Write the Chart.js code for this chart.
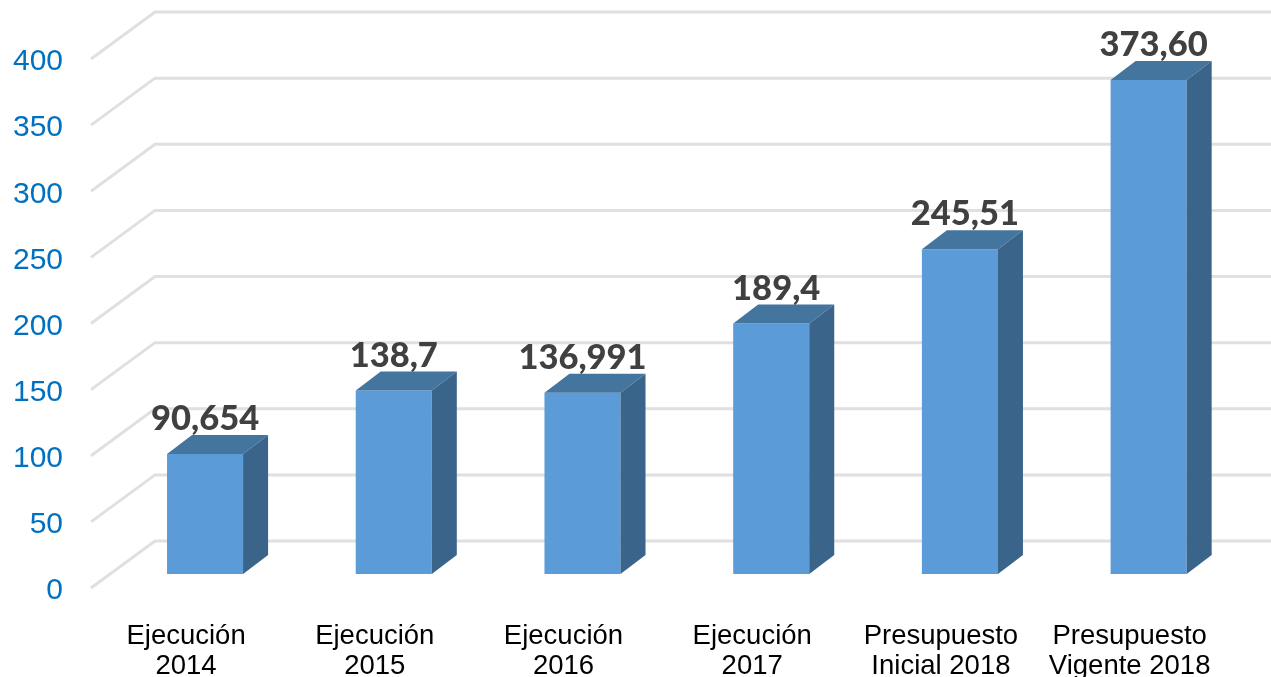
<!DOCTYPE html>
<html><head><meta charset="utf-8">
<style>html,body{margin:0;padding:0;background:#fff;overflow:hidden}canvas{display:block}</style>
<script src="https://cdn.jsdelivr.net/npm/chart.js@4"></script></head>
<body><canvas id="c" width="1271" height="677"></canvas>
<script>
const categories = [["Ejecución","2014"],["Ejecución","2015"],["Ejecución","2016"],["Ejecución","2017"],["Presupuesto","Inicial 2018"],["Presupuesto","Vigente 2018"]];
const values = [90.654, 138.7, 136.991, 189.4, 245.51, 373.60];
const valueLabels = ["90,654","138,7","136,991","189,4","245,51","373,60"];

const DEPTH_X = 25, DEPTH_Y = 19;
const labelNudge = [0,0,0,5,5,5];

const depth3d = {
  id:'depth3d',
  beforeDatasetsDraw(chart){
    const {ctx, scales:{y}} = chart;
    ctx.save();
    ctx.strokeStyle='#E0E0E0'; ctx.lineWidth=3;
    y.ticks.forEach(t=>{
      const p=y.getPixelForValue(t.value);
      ctx.beginPath();
      ctx.moveTo(91,p+14);
      ctx.lineTo(155,p-33);
      ctx.lineTo(1271,p-33);
      ctx.stroke();
    });
    ctx.restore();
  },
  afterDatasetsDraw(chart){
    const {ctx} = chart;
    const bars = chart.getDatasetMeta(0).data;
    ctx.save();
    bars.forEach((b,i)=>{
      const l=b.x-b.width/2, r=b.x+b.width/2, t=b.y, bt=b.base;
      ctx.fillStyle='#44759F';
      ctx.beginPath();ctx.moveTo(l,t);ctx.lineTo(l+DEPTH_X,t-DEPTH_Y);ctx.lineTo(r+DEPTH_X,t-DEPTH_Y);ctx.lineTo(r,t);ctx.closePath();ctx.fill();
      ctx.fillStyle='#3A6489';
      ctx.beginPath();ctx.moveTo(r,t);ctx.lineTo(r+DEPTH_X,t-DEPTH_Y);ctx.lineTo(r+DEPTH_X,bt-DEPTH_Y);ctx.lineTo(r,bt);ctx.closePath();ctx.fill();
      ctx.fillStyle='#404040';
      ctx.font='900 34.5px Lato';
      ctx.textAlign='center';ctx.textBaseline='alphabetic';
      ctx.fillText(valueLabels[i],b.x+labelNudge[i],t-24);
    });
    ctx.restore();
  },
  afterDraw(chart){
    const {ctx, scales:{y}} = chart;
    ctx.save();
    ctx.fillStyle='#0070C0';
    ctx.font='30px "Liberation Sans"';
    ctx.textAlign='right';ctx.textBaseline='middle';
    y.ticks.forEach(t=>ctx.fillText(t.label,63,y.getPixelForValue(t.value)+17));
    ctx.restore();
  }
};

new Chart(document.getElementById('c'),{
  type:'bar',
  data:{labels:categories,datasets:[{data:values,backgroundColor:'#5B9BD7',borderWidth:0,barPercentage:0.403,categoryPercentage:1}]},
  options:{
    responsive:false,animation:false,devicePixelRatio:1,
    layout:{padding:{top:45,left:0,right:28,bottom:0}},
    plugins:{legend:{display:false},tooltip:{enabled:false}},
    scales:{
      x:{grid:{display:false},border:{display:false},
        afterFit(s){s.height=103;},
        ticks:{color:'#000',maxRotation:0,autoSkip:false,padding:39,labelOffset:-19,font:{family:'Liberation Sans',size:27.5,lineHeight:1.09}}},
      y:{min:0,max:400,grid:{display:false},border:{display:false},
        afterFit(s){s.width=110.7;},
        ticks:{display:true,stepSize:50,color:'rgba(0,0,0,0)',font:{size:1}}}
    }
  },
  plugins:[depth3d]
});
</script></body></html>
